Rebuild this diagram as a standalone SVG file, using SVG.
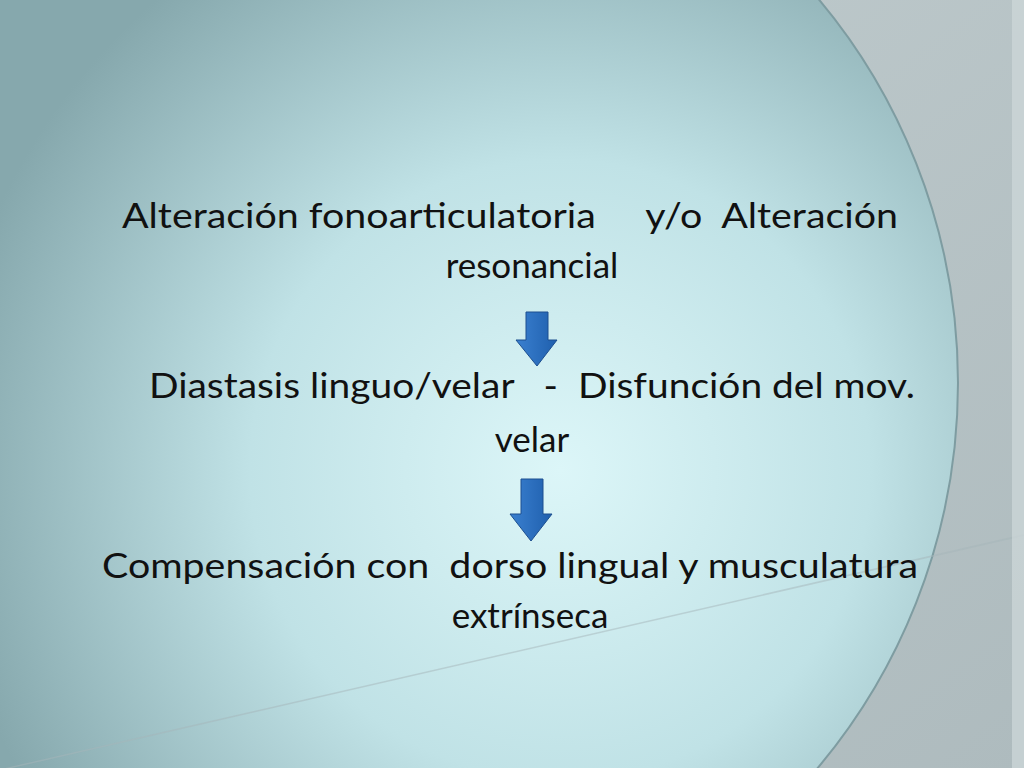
<svg xmlns="http://www.w3.org/2000/svg" width="1024" height="768" viewBox="0 0 1024 768">
<defs>
<linearGradient id="bg" x1="0" y1="0" x2="1" y2="1"><stop offset="0" stop-color="#c3ced0"/><stop offset="1" stop-color="#aebbbe"/></linearGradient>
<radialGradient id="cg" cx="560" cy="470" r="620" gradientUnits="userSpaceOnUse"><stop offset="0" stop-color="#dcf6f8"/><stop offset="0.5" stop-color="#c0e2e6"/><stop offset="1" stop-color="#86a8ad"/></radialGradient>
<linearGradient id="ag" x1="0" y1="0" x2="1" y2="0"><stop offset="0" stop-color="#3a80d0"/><stop offset="1" stop-color="#1f5fad"/></linearGradient>
<style>text{font-family:Lato,"Open Sans","Liberation Sans",sans-serif;font-size:35px;fill:#111;text-anchor:middle}</style>
</defs>
<rect width="1024" height="768" fill="url(#bg)"/>
<circle cx="360" cy="383" r="598" fill="url(#cg)" stroke="#7e9ca1" stroke-width="2"/>
<path d="M0,770 L1024,535" stroke="#a6b6b9" stroke-width="1.5" fill="none" opacity="0.5"/>
<rect x="1012" y="0" width="12" height="768" fill="#cfd8da" opacity="0.7"/>
<g id="n1"><text x="510" y="228" xml:space="preserve" textLength="776" lengthAdjust="spacingAndGlyphs">Alteración fonoarticulatoria     y/o  Alteración</text><text x="532" y="278">resonancial</text></g>
<g id="n2"><text x="532" y="398" xml:space="preserve" textLength="766" lengthAdjust="spacingAndGlyphs">Diastasis linguo/velar   -  Disfunción del mov.</text><text x="532" y="452">velar</text></g>
<g id="n3"><text x="510" y="578" xml:space="preserve" textLength="816" lengthAdjust="spacingAndGlyphs">Compensación con  dorso lingual y musculatura</text><text x="530" y="628">extrínseca</text></g>
<g id="connectors" fill="url(#ag)" stroke="#1d4f8f" stroke-width="1">
<polygon points="526,312 548,312 548,340 557,340 537,366 516,340 526,340"/>
<polygon points="521,479 543,479 543,514 552,514 531,541 510,514 521,514"/>
</g>
</svg>
